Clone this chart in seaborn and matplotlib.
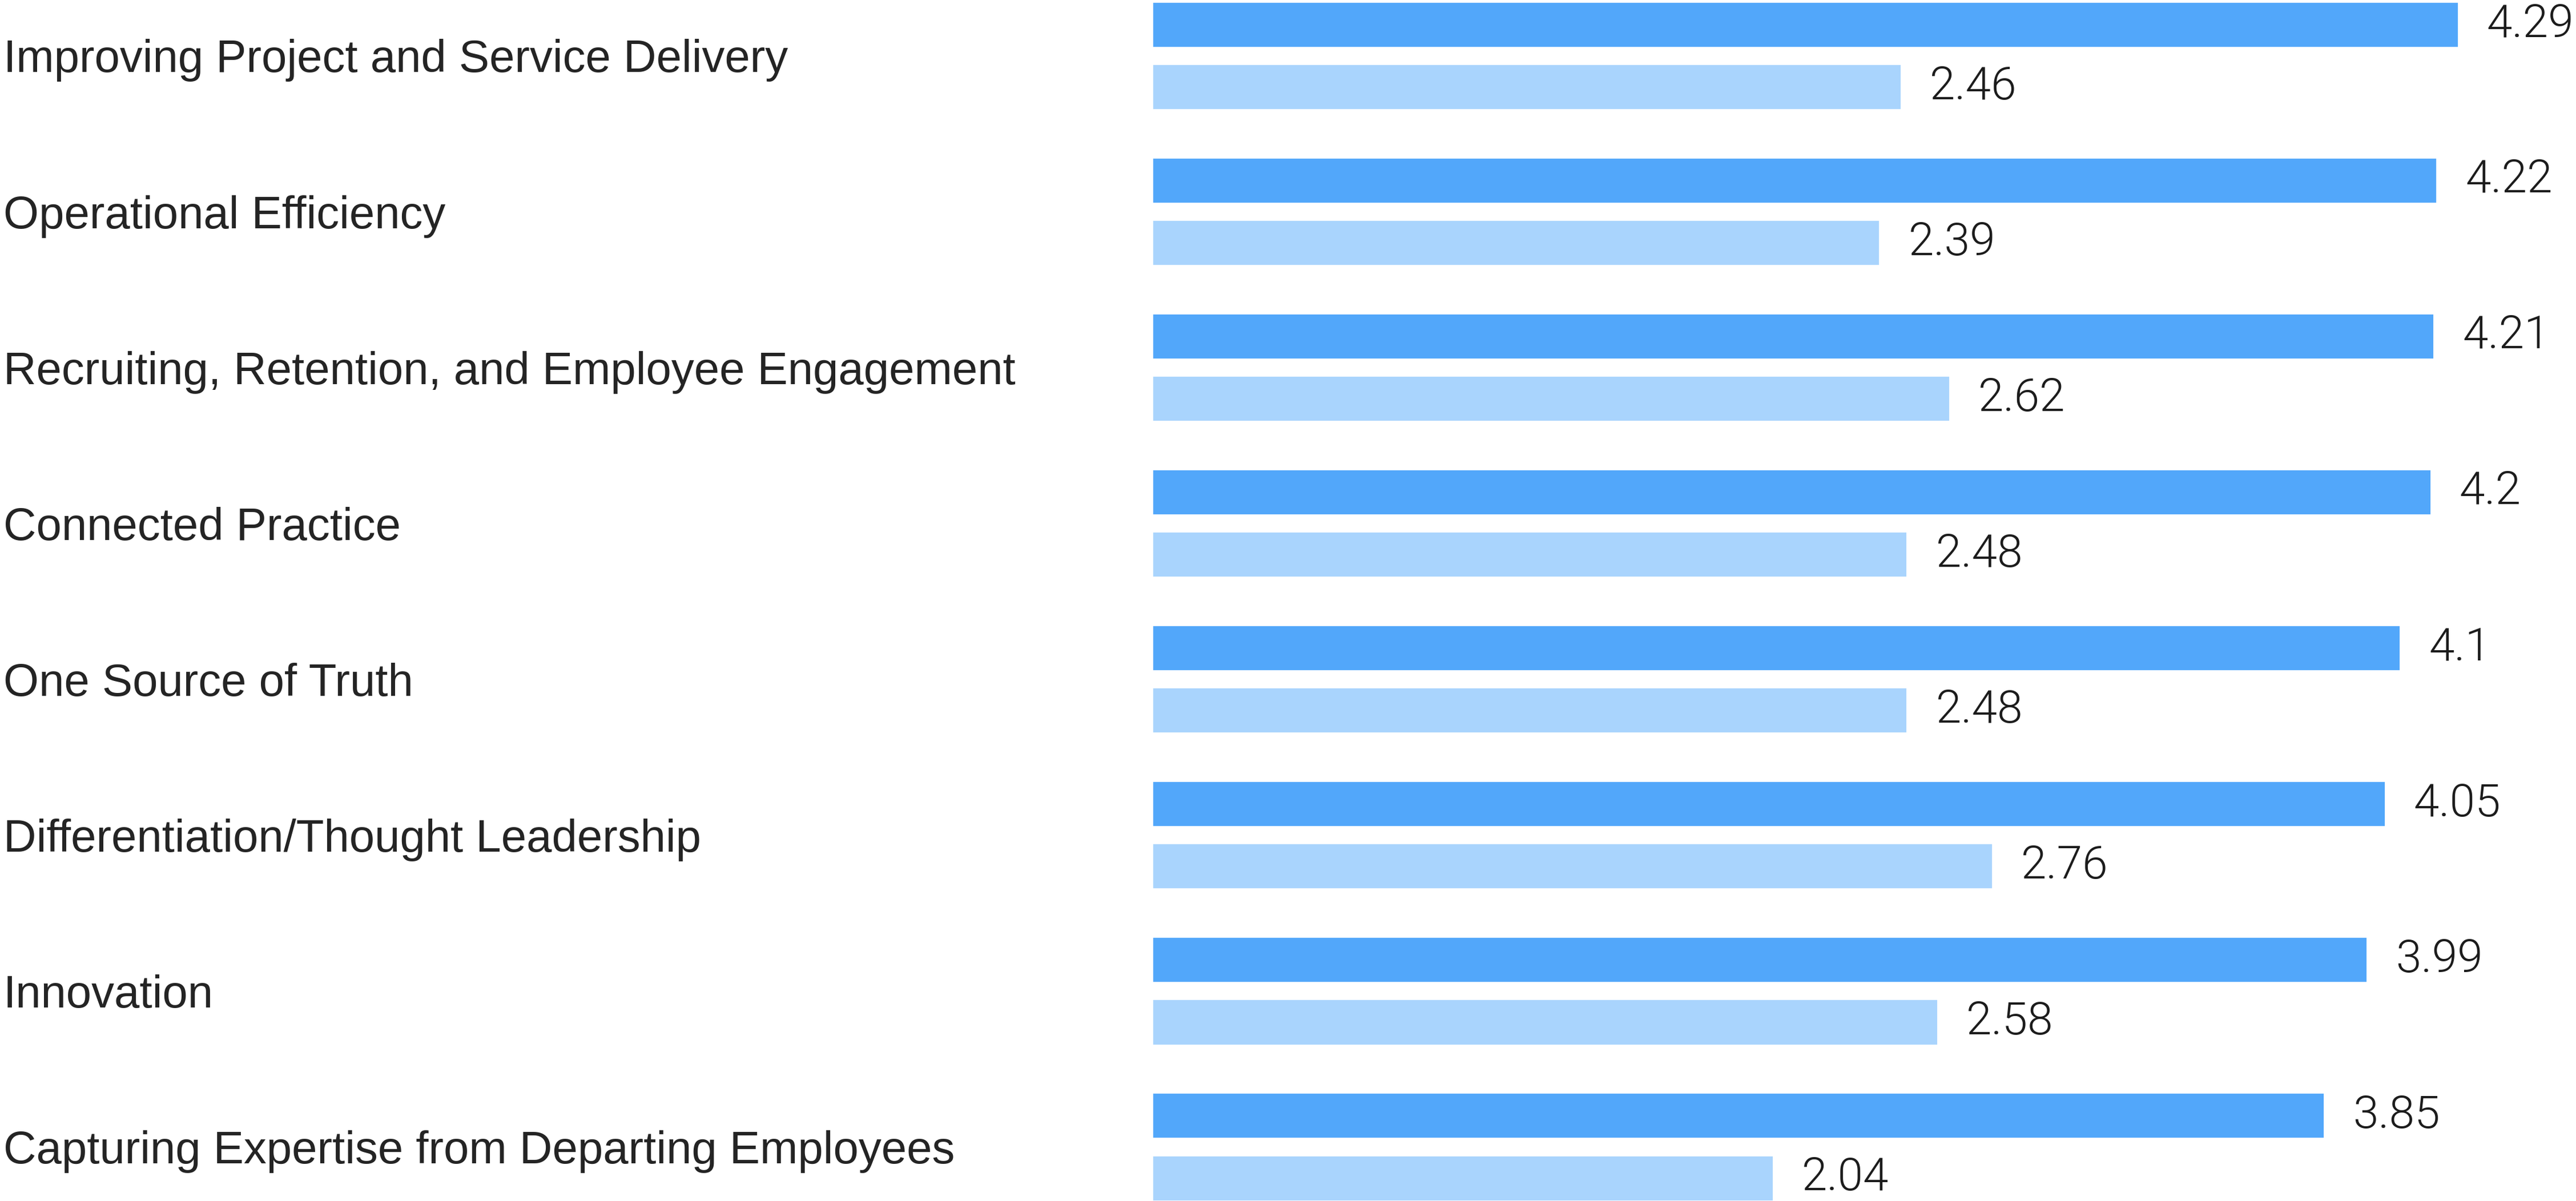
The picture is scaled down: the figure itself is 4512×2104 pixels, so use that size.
import matplotlib
matplotlib.use("Agg")
import matplotlib.pyplot as plt
import pandas as pd
import seaborn as sns

# Survey results: mean scores per area, two series per area
categories = [
    "Improving Project and Service Delivery",
    "Operational Efficiency",
    "Recruiting, Retention, and Employee Engagement",
    "Connected Practice",
    "One Source of Truth",
    "Differentiation/Thought Leadership",
    "Innovation",
    "Capturing Expertise from Departing Employees",
]
importance = [4.29, 4.22, 4.21, 4.2, 4.1, 4.05, 3.99, 3.85]
current_state = [2.46, 2.39, 2.62, 2.48, 2.48, 2.76, 2.58, 2.04]
series_names = ["Importance", "Current state"]
series_colors = ["#52A7FA", "#A9D4FD"]

df = pd.DataFrame({
    "area": categories * 2,
    "series": [series_names[0]] * len(categories) + [series_names[1]] * len(categories),
    "score": importance + current_state,
})

sns.set_theme(style="white")
plt.rcParams["font.family"] = ["Liberation Sans", "DejaVu Sans"]

W, H, DPI = 4512, 2104, 200
fig = plt.figure(figsize=(W / DPI, H / DPI), dpi=DPI, facecolor="white")
left = 2018 / W
ax = fig.add_axes([left, 0, 1 - left, 1])

sns.barplot(
    data=df, y="area", x="score", hue="series", order=categories,
    hue_order=series_names, palette=series_colors, orient="h",
    width=0.8, gap=0.267, saturation=1, legend=False, ax=ax,
    errorbar=None,
)

ax.set_xlim(0, 4.677)
ax.set_ylim(7.348, -0.357)
ax.set_xlabel("")
ax.set_ylabel("")
ax.set_xticks([])
for s in ax.spines.values():
    s.set_visible(False)

# Category names flush with the left edge of the figure
pad_pt = (2018 - 6) / DPI * 72
ax.tick_params(axis="y", length=0, pad=pad_pt, labelsize=28.7, labelcolor="#242424")
for lbl in ax.get_yticklabels():
    lbl.set_horizontalalignment("left")

for cont in ax.containers:
    ax.bar_label(
        cont, fmt="{:g}", padding=18, fontsize=28.9, color="#1c1c1c",
        family=["Roboto", "DejaVu Sans"], fontweight=300,
    )

fig.savefig("out.png", dpi=DPI, facecolor="white")
